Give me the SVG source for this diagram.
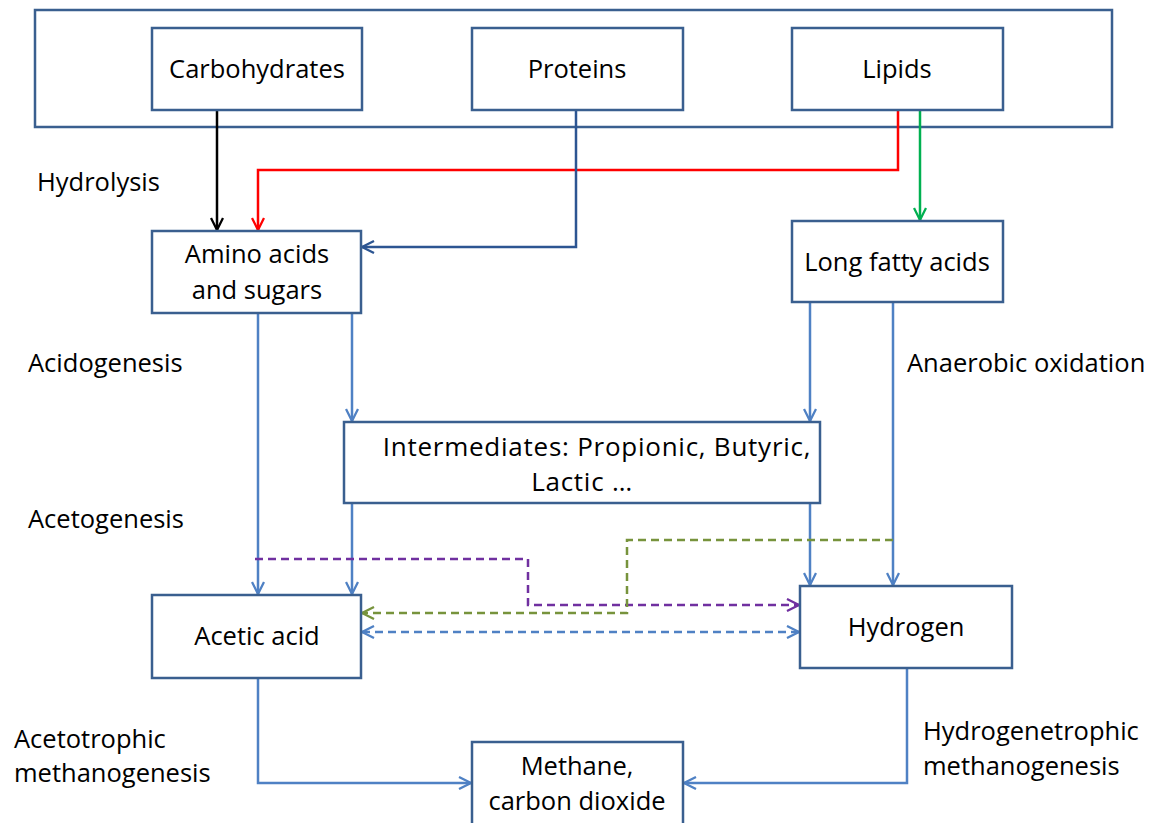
<svg xmlns="http://www.w3.org/2000/svg" width="1151" height="823" viewBox="0 0 1151 823">
<style>
text{font-family:"Open Sans","Liberation Sans",Arial,sans-serif;font-size:25.5px;fill:#000}
.box{fill:#fff;stroke:#3a5f8f;stroke-width:2.5}
.c{fill:none;stroke-width:2.5}
.lb{stroke:#4f81c4}
.mid{text-anchor:middle}
.big{font-size:26px;letter-spacing:0.75px}
</style>
<defs>
<marker id="aLb" viewBox="0 0 14 14" refX="13" refY="7" markerWidth="14" markerHeight="14" markerUnits="userSpaceOnUse" orient="auto-start-reverse"><path d="M1,1 L13,7 L1,13" fill="none" stroke="#4f81c4" stroke-width="2.3"/></marker>
<marker id="aBk" viewBox="0 0 14 14" refX="13" refY="7" markerWidth="14" markerHeight="14" markerUnits="userSpaceOnUse" orient="auto"><path d="M1,1 L13,7 L1,13" fill="none" stroke="#000" stroke-width="2.3"/></marker>
<marker id="aRd" viewBox="0 0 14 14" refX="13" refY="7" markerWidth="14" markerHeight="14" markerUnits="userSpaceOnUse" orient="auto"><path d="M1,1 L13,7 L1,13" fill="none" stroke="#ff0000" stroke-width="2.3"/></marker>
<marker id="aGn" viewBox="0 0 14 14" refX="13" refY="7" markerWidth="14" markerHeight="14" markerUnits="userSpaceOnUse" orient="auto"><path d="M1,1 L13,7 L1,13" fill="none" stroke="#00b050" stroke-width="2.3"/></marker>
<marker id="aDb" viewBox="0 0 14 14" refX="13" refY="7" markerWidth="14" markerHeight="14" markerUnits="userSpaceOnUse" orient="auto"><path d="M1,1 L13,7 L1,13" fill="none" stroke="#2c5592" stroke-width="2.3"/></marker>
<marker id="aPu" viewBox="0 0 14 14" refX="13" refY="7" markerWidth="14" markerHeight="14" markerUnits="userSpaceOnUse" orient="auto"><path d="M1,1 L13,7 L1,13" fill="none" stroke="#7030a0" stroke-width="2.3"/></marker>
<marker id="aOl" viewBox="0 0 14 14" refX="13" refY="7" markerWidth="14" markerHeight="14" markerUnits="userSpaceOnUse" orient="auto"><path d="M1,1 L13,7 L1,13" fill="none" stroke="#77933c" stroke-width="2.3"/></marker>
</defs>
<g id="container"><rect class="box" x="35" y="10" width="1077" height="117"/></g>
<g id="connectors">
<path class="c" stroke="#000" d="M217,110 V230" marker-end="url(#aBk)"/>
<path class="c" stroke="#ff0000" d="M898,110 V170 H258 V230" marker-end="url(#aRd)"/>
<path class="c" stroke="#2c5592" d="M576,110 V247 H362" marker-end="url(#aDb)"/>
<path class="c" stroke="#00b050" d="M920,110 V220" marker-end="url(#aGn)"/>
<path class="c lb" d="M258,313 V594" marker-end="url(#aLb)"/>
<path class="c lb" d="M352,313 V421" marker-end="url(#aLb)"/>
<path class="c lb" d="M352,503 V594" marker-end="url(#aLb)"/>
<path class="c lb" d="M810,302 V421" marker-end="url(#aLb)"/>
<path class="c lb" d="M893,302 V585" marker-end="url(#aLb)"/>
<path class="c lb" d="M810,503 V585" marker-end="url(#aLb)"/>
<path class="c" stroke="#7030a0" stroke-dasharray="8,5" d="M255,559 H528 V605 H799" marker-end="url(#aPu)"/>
<path class="c" stroke="#77933c" stroke-dasharray="8,5" d="M893,540 H627 V613 H362" marker-end="url(#aOl)"/>
<path class="c lb" stroke-dasharray="8,5" d="M362,632 H799" marker-start="url(#aLb)" marker-end="url(#aLb)"/>
<path class="c lb" d="M258,678 V783 H471" marker-end="url(#aLb)"/>
<path class="c lb" d="M907,668 V783 H684" marker-end="url(#aLb)"/>
</g>
<g id="carbohydrates"><rect class="box" x="152" y="28" width="210" height="82"/><text class="mid" x="257" y="78">Carbohydrates</text></g>
<g id="proteins"><rect class="box" x="472" y="28" width="211" height="82"/><text class="mid" x="577" y="78">Proteins</text></g>
<g id="lipids"><rect class="box" x="792" y="28" width="211" height="82"/><text class="mid" x="897" y="78">Lipids</text></g>
<g id="amino"><rect class="box" x="152" y="231" width="209" height="82"/><text class="mid" x="257" y="263">Amino acids</text><text class="mid" x="257" y="299">and sugars</text></g>
<g id="lfa"><rect class="box" x="792" y="221" width="211" height="81"/><text class="mid" x="897" y="271">Long fatty acids</text></g>
<g id="intermediates"><rect class="box" x="344" y="422" width="476" height="81"/><text class="mid big" x="597" y="456">Intermediates: Propionic, Butyric,</text><text class="mid big" x="582" y="491">Lactic …</text></g>
<g id="acetic"><rect class="box" x="152" y="595" width="209" height="83"/><text class="mid" x="257" y="645">Acetic acid</text></g>
<g id="hydrogen"><rect class="box" x="800" y="586" width="212" height="82"/><text class="mid" x="906" y="636">Hydrogen</text></g>
<g id="methane"><rect class="box" x="472" y="742" width="211" height="90"/><text class="mid" x="577" y="775">Methane,</text><text class="mid" x="577" y="810">carbon dioxide</text></g>
<g id="labels">
<text x="37" y="191">Hydrolysis</text>
<text x="28" y="372">Acidogenesis</text>
<text x="907" y="372">Anaerobic oxidation</text>
<text x="28" y="528">Acetogenesis</text>
<text x="14" y="748">Acetotrophic</text>
<text x="14" y="782">methanogenesis</text>
<text x="923" y="740">Hydrogenetrophic</text>
<text x="923" y="775">methanogenesis</text>
</g>
</svg>
